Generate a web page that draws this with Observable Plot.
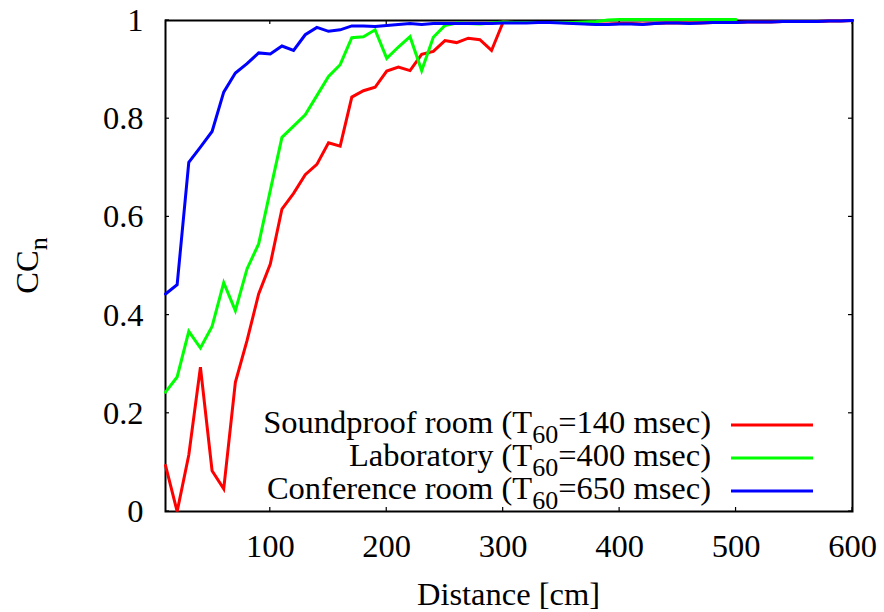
<!DOCTYPE html>
<html>
<head>
<meta charset="utf-8">
<script src="https://cdn.jsdelivr.net/npm/d3@7"></script>
<script src="https://cdn.jsdelivr.net/npm/@observablehq/plot@0.6"></script>
<style>
  html, body { margin: 0; padding: 0; background: #fff; }
  #chart svg { display: block; }
</style>
</head>
<body>
<div id="chart"></div>
<script>
// ---- Data ----
const distances = [10, 20, 30, 40, 50, 60, 70, 80, 90, 100,
  110, 120, 130, 140, 150, 160, 170, 180, 190, 200,
  210, 220, 230, 240, 250, 260, 270, 280, 290, 300,
  310, 320, 330, 340, 350, 360, 370, 380, 390, 400,
  410, 420, 430, 440, 450, 460, 470, 480, 490, 500,
  510, 520, 530, 540, 550, 560, 570, 580, 590, 600];

const soundproof = [0.094, 0.000, 0.115, 0.294, 0.083, 0.046, 0.263, 0.348, 0.443, 0.504,
  0.616, 0.648, 0.686, 0.707, 0.751, 0.744, 0.844, 0.857, 0.864, 0.897,
  0.905, 0.898, 0.931, 0.937, 0.959, 0.955, 0.964, 0.961, 0.939, 0.997,
  0.996, 0.996, 0.996, 0.996, 0.996, 0.995, 0.994, 0.993, 0.993, 0.994,
  0.994, 0.993, 0.994, 0.995, 0.995, 0.995, 0.995, 0.996, 0.996, 0.996,
  0.997, 0.997, 0.997, 0.998, 0.998, 0.998, 0.998, 0.999, 0.999, 1.000];

const laboratory = [0.243, 0.274, 0.367, 0.333, 0.377, 0.466, 0.409, 0.494, 0.545, 0.654,
  0.762, 0.785, 0.808, 0.847, 0.886, 0.910, 0.965, 0.967, 0.981, 0.923,
  0.946, 0.967, 0.898, 0.966, 0.990, 0.995, 0.994, 0.993, 0.995, 0.997,
  0.996, 0.996, 0.996, 0.996, 0.996, 0.996, 0.997, 0.998, 1.001, 1.002,
  1.002, 1.002, 1.002, 1.002, 1.002, 1.002, 1.002, 1.002, 1.002, 1.002];

const conference = [0.443, 0.462, 0.711, 0.742, 0.774, 0.854, 0.893, 0.912, 0.934, 0.932,
  0.948, 0.939, 0.971, 0.986, 0.978, 0.981, 0.989, 0.989, 0.988, 0.990,
  0.992, 0.994, 0.992, 0.994, 0.994, 0.994, 0.994, 0.994, 0.994, 0.995,
  0.995, 0.995, 0.996, 0.996, 0.995, 0.994, 0.993, 0.992, 0.992, 0.993,
  0.993, 0.992, 0.994, 0.995, 0.995, 0.994, 0.995, 0.996, 0.996, 0.996,
  0.997, 0.997, 0.997, 0.998, 0.998, 0.998, 0.998, 0.999, 0.999, 1.000];

const seriesNames = ["Soundproof room", "Laboratory", "Conference room"];
const seriesT60 = [140, 400, 650];
const seriesColors = ["#ff0000", "#00ff00", "#0000ff"];

const xTicks = [100, 200, 300, 400, 500, 600];
const yTicks = [0, 0.2, 0.4, 0.6, 0.8, 1];
const yTickLabels = ["0", "0.2", "0.4", "0.6", "0.8", "1"];
const xLabel = "Distance [cm]";
const yLabelMain = "CC";
const yLabelSub = "n";

// ---- Build tidy table ----
const rows = [];
[soundproof, laboratory, conference].forEach((vals, s) => {
  vals.forEach((v, i) => rows.push({series: seriesNames[s], distance: distances[i], cc: v}));
});

const FONT = "'Liberation Serif', 'Times New Roman', Times, serif";
const FS = 32.5;
const SUB = 26;

// Custom decorations: inward ticks on all sides, axis titles, legend
function decorations(index, scales, values, dims) {
  const {width, height, marginLeft, marginRight, marginTop, marginBottom} = dims;
  const left = marginLeft, right = width - marginRight, top = marginTop, bottom = height - marginBottom;
  const sx = scales.x, sy = scales.y;
  const g = d3.create("svg:g")
    .attr("font-family", FONT)
    .attr("font-size", FS)
    .attr("fill", "black");

  const tk = 4;
  const ticks = g.append("g").attr("stroke", "black").attr("stroke-width", 1.2);
  for (const t of xTicks) {
    const px = sx(t);
    ticks.append("line").attr("x1", px).attr("x2", px).attr("y1", bottom).attr("y2", bottom - tk);
    ticks.append("line").attr("x1", px).attr("x2", px).attr("y1", top).attr("y2", top + tk);
  }
  for (const t of yTicks) {
    const py = sy(t);
    ticks.append("line").attr("x1", left).attr("x2", left + tk).attr("y1", py).attr("y2", py);
    ticks.append("line").attr("x1", right).attr("x2", right - tk).attr("y1", py).attr("y2", py);
  }

  // x axis title
  g.append("text")
    .attr("x", (left + right) / 2)
    .attr("y", bottom + 94)
    .attr("text-anchor", "middle")
    .text(xLabel);

  // y axis title with subscript
  const yl = g.append("text")
    .attr("transform", `translate(${left - 127},${(top + bottom) / 2}) rotate(-90)`)
    .attr("text-anchor", "middle");
  yl.append("tspan").text(yLabelMain);
  yl.append("tspan").attr("font-size", SUB).attr("dy", 9).text(yLabelSub);

  // legend
  seriesNames.forEach((name, i) => {
    const lineY = bottom - 86 + 33 * i;
    const t = g.append("text")
      .attr("x", right - 141)
      .attr("y", lineY + 8)
      .attr("text-anchor", "end");
    t.append("tspan").text(`${name} (T`);
    t.append("tspan").attr("font-size", SUB).attr("dy", 10).text("60");
    t.append("tspan").attr("dy", -10).text(`=${seriesT60[i]} msec)`);
    g.append("line")
      .attr("x1", right - 121).attr("x2", right - 39)
      .attr("y1", lineY).attr("y2", lineY)
      .attr("stroke", seriesColors[i])
      .attr("stroke-width", 3);
  });
  return g.node();
}

const chart = Plot.plot({
  width: 884,
  height: 612,
  marginLeft: 165,
  marginRight: 32,
  marginTop: 20,
  marginBottom: 101,
  style: {fontFamily: FONT, fontSize: FS + "px", background: "white", color: "black"},
  x: {domain: [10, 600]},
  y: {domain: [0, 1]},
  color: {domain: seriesNames, range: seriesColors},
  marks: [
    Plot.frame({stroke: "black", strokeWidth: 2}),
    Plot.axisX({ticks: xTicks, tickSize: 0, tickPadding: 22, fontSize: FS, fontFamily: FONT, label: null, tickFormat: d => String(d)}),
    Plot.axisY({ticks: yTicks, tickSize: 0, tickPadding: 22, fontSize: FS, fontFamily: FONT, label: null,
      tickFormat: d => yTickLabels[yTicks.indexOf(d)]}),
    decorations,
    Plot.line(rows, {x: "distance", y: "cc", z: "series", stroke: "series",
      strokeWidth: 3, strokeLinejoin: "miter", strokeMiterlimit: 4, curve: "linear"})
  ]
});

document.getElementById("chart").appendChild(chart);
</script>
</body>
</html>
